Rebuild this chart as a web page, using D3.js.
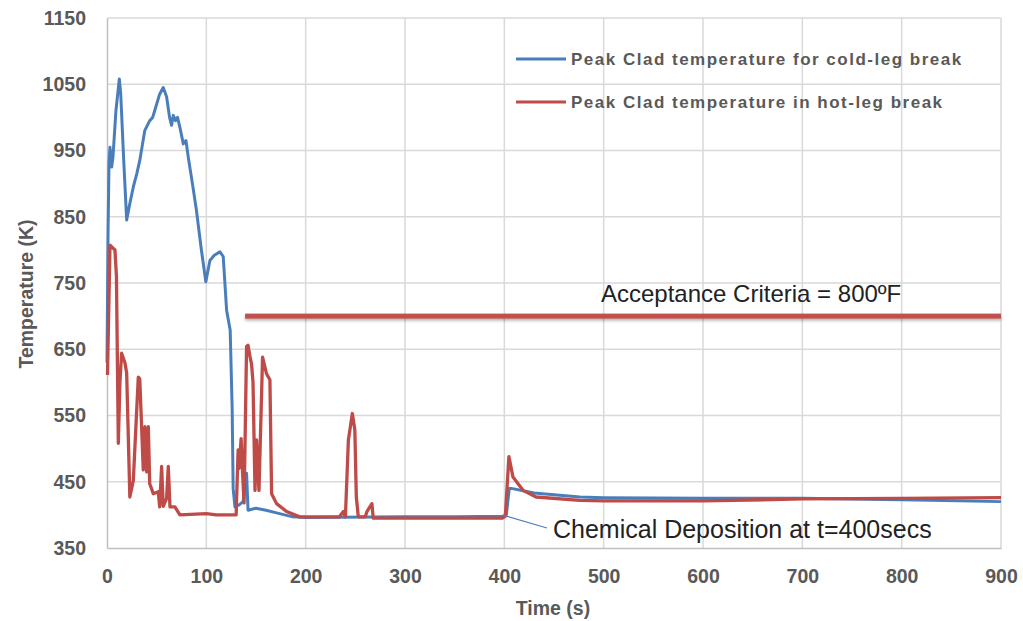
<!DOCTYPE html>
<html>
<head>
<meta charset="utf-8">
<script src="https://cdn.jsdelivr.net/npm/d3@7"></script>
<style>
  html, body { margin: 0; padding: 0; background: #fff; }
  svg { display: block; }
  text { font-family: "Liberation Sans", Arial, sans-serif; }
</style>
</head>
<body>
<svg id="chart" width="1023" height="621"></svg>
<script>
// Peak clad temperature histories (time in s, temperature in K)
const coldTime = [0, 1, 2, 3, 4.7, 6, 9, 12.4, 13.8, 17, 19.8, 23, 26.5, 30, 33, 38, 43, 46, 48, 53, 56.6, 60, 63, 65, 66.7, 69, 71, 73.4, 76.8, 79.5, 81.8, 86, 90, 95, 99.5, 103.6, 108, 113.7, 117, 120.4, 124, 126, 127, 128.8, 133, 137, 140.5, 142, 150, 160, 170.7, 187, 200, 300, 350, 400, 402, 405, 407, 430, 476, 500, 600, 700, 800, 900];
const coldTemp = [630, 820, 930, 955, 925, 940, 1010, 1058, 1036, 930, 845, 870, 895, 915, 935, 980, 995, 1000, 1010, 1035, 1045, 1031, 1000, 988, 1003, 995, 1000, 985, 960, 965, 940, 900, 860, 800, 752, 784, 792, 797, 790, 709, 679, 560, 440, 412, 415, 420, 463, 407, 410, 407, 403, 397, 396, 397, 397, 398, 400, 440, 440, 433, 427, 426, 425, 425, 423, 420];

const hotTime = [0.5, 3, 6.4, 8, 9.5, 11.4, 13, 14.7, 18, 19.8, 23, 26.5, 31.5, 33, 36.5, 38.2, 40, 41.6, 43, 46.6, 51.6, 53, 55, 56.6, 60, 61.7, 63.4, 68.4, 73.4, 100, 110, 130, 132, 133, 135, 137, 138, 140.5, 142, 143.8, 145.5, 147, 149, 150.6, 153, 156.6, 160.6, 164, 165.7, 170.7, 180.8, 194, 234, 238, 240, 243, 247, 249.5, 251, 253, 260, 261.7, 266.7, 268, 300, 398, 401, 404.6, 408.7, 418.8, 432, 476, 500, 600, 700, 800, 900];
const hotTemp = [611, 807, 802, 800, 760, 508, 600, 644, 630, 614, 427, 452, 608, 605, 468, 533, 465, 533, 447, 432, 435, 412, 473, 413, 425, 473, 412, 412, 400, 402, 400, 400, 498, 470, 515, 447, 418, 654, 656, 640, 628, 600, 437, 513, 437, 638, 613, 604, 432, 417, 405, 397, 397, 405, 397, 513, 553, 528, 427, 397, 397, 405, 417, 395, 395, 395, 398, 488, 457, 437, 427, 422, 421, 421, 424, 425, 426];

const xTicks = [0, 100, 200, 300, 400, 500, 600, 700, 800, 900];
const yTicks = [350, 450, 550, 650, 750, 850, 950, 1050, 1150];

const seriesNames = ["Peak Clad temperature for cold-leg break", "Peak Clad temperature in hot-leg break"];
const seriesColors = ["#4a7ebb", "#be4b48"];

const acceptanceLevel = 700;     // 800 ºF expressed in K
const acceptanceStart = 139;     // s
const depositionTime = 400;      // s

const svg = d3.select("#chart");
const plotLeft = 107, plotRight = 1001, plotTop = 18, plotBottom = 548;

const x = d3.scaleLinear().domain([0, 900]).range([plotLeft, plotRight]);
const y = d3.scaleLinear().domain([350, 1150]).range([plotBottom, plotTop]);

// Gridlines
svg.append("g")
  .selectAll("line")
  .data(xTicks.slice(1))
  .join("line")
  .attr("x1", d => x(d)).attr("x2", d => x(d))
  .attr("y1", plotTop).attr("y2", plotBottom)
  .attr("stroke", "#d9d9d9").attr("stroke-width", 1.5);

svg.append("g")
  .selectAll("line")
  .data(yTicks.slice(1))
  .join("line")
  .attr("x1", plotLeft).attr("x2", plotRight)
  .attr("y1", d => y(d)).attr("y2", d => y(d))
  .attr("stroke", "#d9d9d9").attr("stroke-width", 1.5);

// Axes
const xAxis = svg.append("g")
  .attr("transform", `translate(0,${plotBottom})`)
  .call(d3.axisBottom(x).tickValues(xTicks).tickSize(0).tickPadding(21).tickFormat(d3.format("d")));
const yAxis = svg.append("g")
  .attr("transform", `translate(${plotLeft},0)`)
  .call(d3.axisLeft(y).tickValues(yTicks).tickSize(0).tickPadding(21).tickFormat(d3.format("d")));

[xAxis, yAxis].forEach(g => {
  g.select(".domain").attr("stroke", "#bfbfbf").attr("stroke-width", 1.5);
  g.selectAll("text")
    .attr("fill", "#595959")
    .style("font-size", "19.5px")
    .style("font-weight", "bold")
    .style("font-family", "'Liberation Sans', Arial, sans-serif");
});

// Axis titles
svg.append("text")
  .attr("x", 553).attr("y", 615)
  .attr("text-anchor", "middle")
  .attr("fill", "#595959")
  .style("font-size", "19.5px").style("font-weight", "bold")
  .text("Time (s)");

svg.append("text")
  .attr("transform", `translate(33,${(plotTop + plotBottom) / 2 + 11}) rotate(-90)`)
  .attr("text-anchor", "middle")
  .attr("fill", "#595959")
  .style("font-size", "19.5px").style("font-weight", "bold")
  .text("Temperature (K)");

// Acceptance criteria bar with a soft shadow
const defs = svg.append("defs");
const shadow = defs.append("filter").attr("id", "shadow")
  .attr("x", "-5%").attr("y", "-100%").attr("width", "110%").attr("height", "300%");
shadow.append("feDropShadow").attr("dx", 0).attr("dy", 2).attr("stdDeviation", 1.5)
  .attr("flood-color", "#000").attr("flood-opacity", 0.3);

svg.append("rect")
  .attr("x", x(acceptanceStart))
  .attr("width", plotRight - x(acceptanceStart))
  .attr("y", y(acceptanceLevel) - 2.5)
  .attr("height", 5)
  .attr("fill", "#c0504d")
  .attr("filter", "url(#shadow)");

svg.append("text")
  .attr("x", 601).attr("y", 302)
  .attr("fill", "#222")
  .style("font-size", "24px")
  .text("Acceptance Criteria = 800ºF");

// Temperature series
const line = d3.line().x(d => x(d[0])).y(d => y(d[1]));
const coldData = d3.zip(coldTime, coldTemp);
const hotData = d3.zip(hotTime, hotTemp);

svg.append("path")
  .datum(coldData)
  .attr("d", line)
  .attr("fill", "none")
  .attr("stroke", seriesColors[0]).attr("stroke-width", 3)
  .attr("stroke-linejoin", "round");

svg.append("path")
  .datum(hotData)
  .attr("d", line)
  .attr("fill", "none")
  .attr("stroke", seriesColors[1]).attr("stroke-width", 3.3)
  .attr("stroke-linejoin", "round");

// Chemical deposition callout
svg.append("line")
  .attr("x1", x(depositionTime) - 2).attr("y1", y(400))
  .attr("x2", 547).attr("y2", 528)
  .attr("stroke", "#4a7ebb").attr("stroke-width", 1.2);

svg.append("text")
  .attr("x", 553).attr("y", 538)
  .attr("fill", "#222")
  .style("font-size", "25px")
  .text("Chemical Deposition at t=400secs");

// Legend
const legend = svg.append("g");
seriesNames.forEach((name, i) => {
  const ly = 59 + i * 43;
  legend.append("line")
    .attr("x1", 516).attr("x2", 566)
    .attr("y1", ly).attr("y2", ly)
    .attr("stroke", seriesColors[i]).attr("stroke-width", 3);
  legend.append("text")
    .attr("x", 571).attr("y", ly + 6)
    .attr("fill", "#595959")
    .style("font-size", "17px").style("font-weight", "bold")
    .style("letter-spacing", "1.5px")
    .text(name);
});
</script>
</body>
</html>
